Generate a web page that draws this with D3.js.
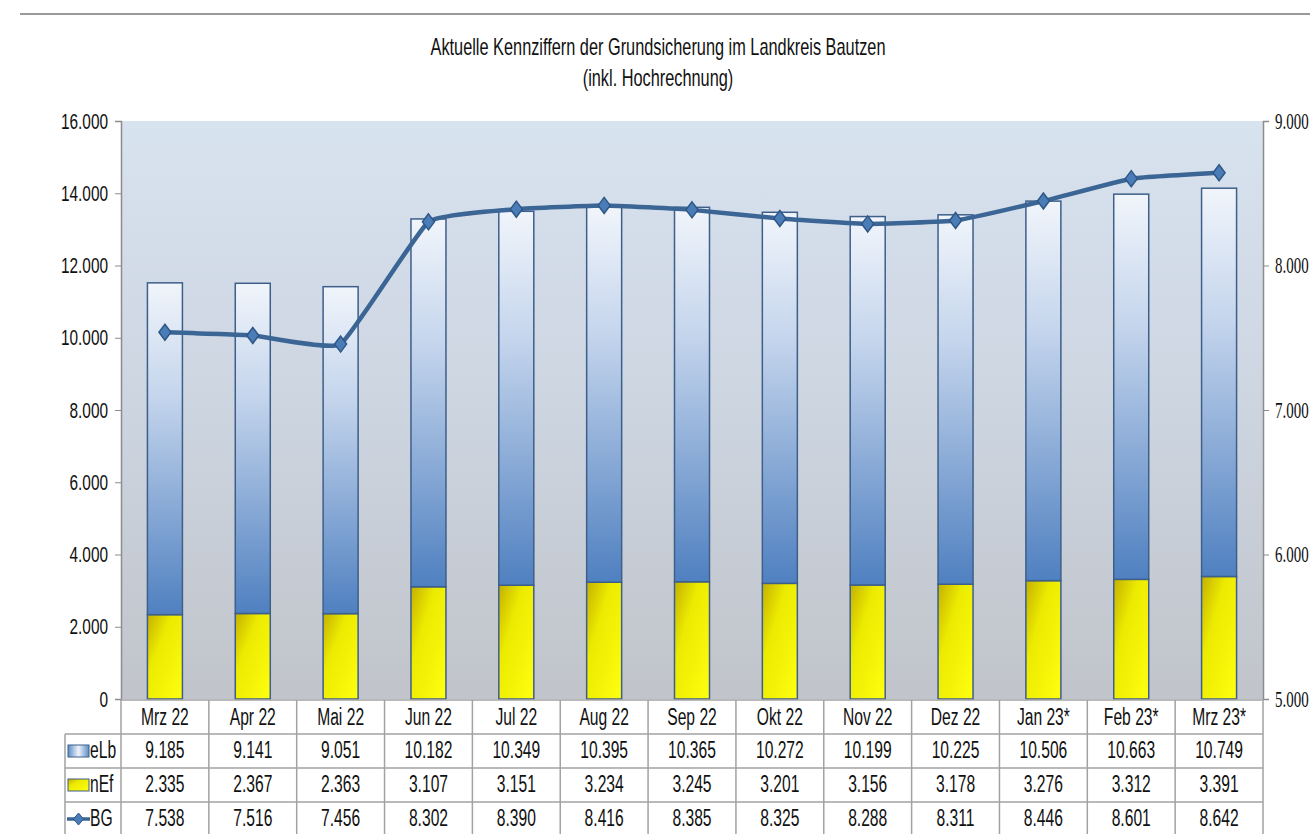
<!DOCTYPE html>
<html>
<head>
<meta charset="utf-8">
<script src="https://cdn.jsdelivr.net/npm/d3@7"></script>
<style>
body { margin:0; background:#fff; }
text { font-family:"Liberation Sans",Arial,sans-serif; }
</style>
</head>
<body>
<script>

var months = ["Mrz 22","Apr 22","Mai 22","Jun 22","Jul 22","Aug 22","Sep 22","Okt 22","Nov 22","Dez 22","Jan 23*","Feb 23*","Mrz 23*"]
var eLb = [9185,9141,9051,10182,10349,10395,10365,10272,10199,10225,10506,10663,10749]
var nEf = [2335,2367,2363,3107,3151,3234,3245,3201,3156,3178,3276,3312,3391]
var BG  = [7538,7516,7456,8302,8390,8416,8385,8325,8288,8311,8446,8601,8642]
var leftTicks = [0,2000,4000,6000,8000,10000,12000,14000,16000]
var rightTicks = [5000,6000,7000,8000,9000]

var width = 1310, height = 834
var plotLeft = 121, plotRight = 1263, plotTop = 121, plotBottom = 699
var sx = 0.68   // text in the picture is squeezed sideways

var de = d3.formatLocale({decimal:",", thousands:".", grouping:[3], currency:["","€"]})
var fmt = de.format(",")

var svg = d3.select("body").append("svg")
    .attr("width", width).attr("height", height)

var defs = svg.append("defs")

var bg = defs.append("linearGradient").attr("id","bg").attr("x1",0).attr("y1",0).attr("x2",0).attr("y2",1)
bg.append("stop").attr("offset","0%").attr("stop-color","#d8e3f0")
bg.append("stop").attr("offset","55%").attr("stop-color","#cbd3de")
bg.append("stop").attr("offset","100%").attr("stop-color","#c1c4ca")

var blue = defs.append("linearGradient").attr("id","blue").attr("x1",0).attr("y1",0).attr("x2",0).attr("y2",1)
blue.append("stop").attr("offset","0%").attr("stop-color","#f1f5fb")
blue.append("stop").attr("offset","35%").attr("stop-color","#c3d4ec")
blue.append("stop").attr("offset","100%").attr("stop-color","#4f80c0")

var yellow = defs.append("linearGradient").attr("id","yellow").attr("x1",0).attr("y1",0).attr("x2",1).attr("y2",1)
yellow.append("stop").attr("offset","0%").attr("stop-color","#c4b000")
yellow.append("stop").attr("offset","35%").attr("stop-color","#ecea00")
yellow.append("stop").attr("offset","100%").attr("stop-color","#ffff10")

var blueLeg = defs.append("linearGradient").attr("id","blueLeg").attr("x1",0).attr("y1",0).attr("x2",1).attr("y2",0)
blueLeg.append("stop").attr("offset","0%").attr("stop-color","#5b8bc8")
blueLeg.append("stop").attr("offset","50%").attr("stop-color","#eef3fa")
blueLeg.append("stop").attr("offset","100%").attr("stop-color","#5b8bc8")

// squeezed text helper
function label(g, cx, cy, str, anchor, size) {
  return g.append("text")
    .attr("transform","translate(" + cx + "," + cy + ") scale(" + sx + ",1)")
    .attr("text-anchor", anchor || "middle")
    .style("font-size", (size || 23) + "px").attr("fill","#111")
    .text(str)
}

// top rule
svg.append("line").attr("x1",20).attr("x2",width).attr("y1",14).attr("y2",14)
   .attr("stroke","#9a9a9a").attr("stroke-width",2)

// title
label(svg, 658, 55, "Aktuelle Kennziffern der Grundsicherung im Landkreis Bautzen", "middle", 24)
label(svg, 658, 86, "(inkl. Hochrechnung)", "middle", 24)

var x = d3.scaleBand().domain(months).range([plotLeft,plotRight])
var y = d3.scaleLinear().domain([0,16000]).range([plotBottom,plotTop])
var y2 = d3.scaleLinear().domain([5000,9000]).range([plotBottom,plotTop])

svg.append("rect").attr("x",plotLeft).attr("y",plotTop).attr("width",plotRight-plotLeft).attr("height",plotBottom-plotTop)
   .attr("fill","url(#bg)")

var barW = 35
function cx(i){ return x(months[i]) + x.bandwidth()/2 }

// nEf bars (bottom)
svg.selectAll(".nef").data(nEf).enter().append("rect")
   .attr("x", function(d,i){ return cx(i) - barW/2 })
   .attr("y", function(d){ return y(d) })
   .attr("width", barW)
   .attr("height", function(d){ return plotBottom - y(d) })
   .attr("fill","url(#yellow)").attr("stroke","#3d5f8a").attr("stroke-width",1.5)

// eLb bars (stacked on nEf)
svg.selectAll(".elb").data(eLb).enter().append("rect")
   .attr("x", function(d,i){ return cx(i) - barW/2 })
   .attr("y", function(d,i){ return y(nEf[i] + d) })
   .attr("width", barW)
   .attr("height", function(d,i){ return y(nEf[i]) - y(nEf[i] + d) })
   .attr("fill","url(#blue)").attr("stroke","#3d5f8a").attr("stroke-width",1.5)

// BG line on right axis
var line = d3.line()
   .x(function(d,i){ return cx(i) })
   .y(function(d){ return y2(d) })
   .curve(d3.curveCardinal.tension(0.65))

svg.append("path").datum(BG).attr("d", line)
   .attr("fill","none").attr("stroke","#3a6595").attr("stroke-width",4.5)

var diamond = "M0,-8 L6,0 L0,8 L-6,0 Z"
svg.selectAll(".mk").data(BG).enter().append("path")
   .attr("transform", function(d,i){ return "translate(" + cx(i) + "," + y2(d) + ")" })
   .attr("d", diamond)
   .attr("fill","#4a7cb8").attr("stroke","#2f5785").attr("stroke-width",1.5)

// left axis
var yAxis = svg.append("g").attr("transform","translate(" + plotLeft + ",0)")
   .call(d3.axisLeft(y).tickValues(leftTicks).tickFormat(fmt).tickSizeOuter(0).tickSize(6).tickPadding(7))
yAxis.select(".domain").attr("stroke","#8c8c8c").attr("stroke-width",1.5)
yAxis.selectAll(".tick line").attr("stroke","#8c8c8c")
yAxis.selectAll("text").style("font-size","22px").attr("fill","#111")
   .attr("x", -13 / 0.7).attr("transform","scale(0.7,1)")

// right axis
var y2Axis = svg.append("g").attr("transform","translate(" + plotRight + ",0)")
   .call(d3.axisRight(y2).tickValues(rightTicks).tickFormat(fmt).tickSizeOuter(0).tickSize(6).tickPadding(7))
y2Axis.select(".domain").attr("stroke","#8c8c8c").attr("stroke-width",1.5)
y2Axis.selectAll(".tick line").attr("stroke","#8c8c8c")
y2Axis.selectAll("text").style("font-size","23px").attr("fill","#111")
   .style("font-family","'Liberation Serif','Times New Roman',serif")
   .attr("x", 12 / 0.65).attr("transform","scale(0.65,1)")

// data table
var rowY = [700, 734, 768, 802, 836]
var legX = 65
var tbl = svg.append("g")
var grid = "#a2a2a2"

tbl.append("rect").attr("x",plotLeft).attr("y",rowY[0]).attr("width",plotRight-plotLeft).attr("height",rowY[1]-rowY[0])
   .attr("fill","#fff")
tbl.append("rect").attr("x",legX).attr("y",rowY[1]).attr("width",plotRight-legX).attr("height",rowY[4]-rowY[1])
   .attr("fill","#fff")

tbl.append("line").attr("x1",plotLeft).attr("x2",plotRight).attr("y1",rowY[0]).attr("y2",rowY[0]).attr("stroke",grid).attr("stroke-width",1.5)
;[1,2,3,4].forEach(function(k){
  tbl.append("line").attr("x1",legX).attr("x2",plotRight).attr("y1",rowY[k]).attr("y2",rowY[k]).attr("stroke",grid).attr("stroke-width",1.5)
})
tbl.append("line").attr("x1",legX).attr("x2",legX).attr("y1",rowY[1]).attr("y2",rowY[4]).attr("stroke",grid).attr("stroke-width",1.5)
months.forEach(function(m){
  tbl.append("line").attr("x1",x(m)).attr("x2",x(m)).attr("y1",rowY[0]).attr("y2",rowY[4]).attr("stroke",grid).attr("stroke-width",1.5)
})
tbl.append("line").attr("x1",plotRight).attr("x2",plotRight).attr("y1",rowY[0]).attr("y2",rowY[4]).attr("stroke",grid).attr("stroke-width",1.5)

months.forEach(function(m,i){
  label(tbl, cx(i), (rowY[0]+rowY[1])/2 + 8, m)
})

var rows = [eLb, nEf, BG]
var rowNames = ["eLb","nEf","BG"]
rows.forEach(function(vals, r){
  var cy = (rowY[r+1]+rowY[r+2])/2 + 7
  vals.forEach(function(v,i){ label(tbl, cx(i), cy, fmt(v)) })
  label(tbl, legX + 25, cy, rowNames[r], "start")
})

// legend keys
var ky = function(r){ return (rowY[r+1]+rowY[r+2])/2 }
tbl.append("rect").attr("x",legX+3).attr("y",ky(0)-6).attr("width",21).attr("height",12)
   .attr("fill","url(#blueLeg)").attr("stroke","#3d5f8a").attr("stroke-width",1)
tbl.append("rect").attr("x",legX+3).attr("y",ky(1)-6).attr("width",21).attr("height",12)
   .attr("fill","url(#yellow)").attr("stroke","#3d5f8a").attr("stroke-width",1)
tbl.append("line").attr("x1",legX+2).attr("x2",legX+25).attr("y1",ky(2)).attr("y2",ky(2))
   .attr("stroke","#3a6595").attr("stroke-width",3.5)
tbl.append("path").attr("transform","translate(" + (legX+13.5) + "," + ky(2) + ")")
   .attr("d","M0,-6 L5,0 L0,6 L-5,0 Z").attr("fill","#4a7cb8").attr("stroke","#2f5785")

</script>
</body>
</html>
